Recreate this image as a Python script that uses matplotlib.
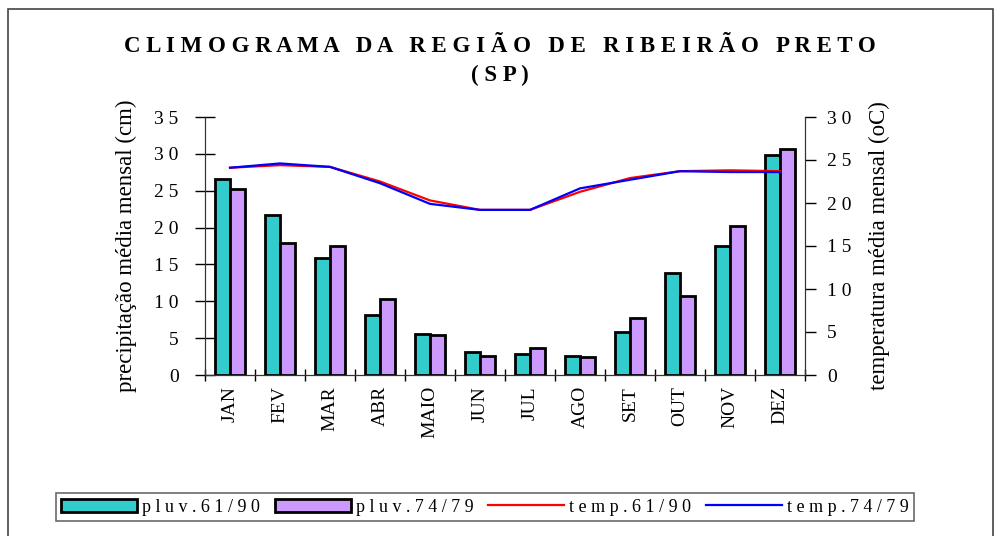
import matplotlib.pyplot as plt
import numpy as np
from matplotlib.patches import Patch
from matplotlib.lines import Line2D

months = ["JAN", "FEV", "MAR", "ABR", "MAIO", "JUN", "JUL", "AGO", "SET", "OUT", "NOV", "DEZ"]
pluv_61_90 = [26.6, 21.7, 15.9, 8.1, 5.5, 3.1, 2.85, 2.6, 5.8, 13.9, 17.5, 29.8]
pluv_74_79 = [25.2, 17.9, 17.5, 10.3, 5.4, 2.6, 3.7, 2.4, 7.8, 10.7, 20.2, 30.6]
temp_61_90 = [24.1, 24.4, 24.2, 22.5, 20.3, 19.2, 19.2, 21.3, 22.9, 23.7, 23.8, 23.7]
temp_74_79 = [24.1, 24.6, 24.2, 22.3, 19.9, 19.2, 19.2, 21.7, 22.7, 23.7, 23.6, 23.6]

left_ticks = [0, 5, 10, 15, 20, 25, 30, 35]
right_ticks = [0, 5, 10, 15, 20, 25, 30]

teal = "#33CCCC"
lilac = "#CC99FF"

plt.rcParams["font.family"] = ["Liberation Serif", "DejaVu Serif"]


def spaced(text):
    return " ".join(text)


fig = plt.figure(figsize=(9.97, 5.36), dpi=100)

# outer frame
fig.patches.append(plt.Rectangle((8 / 997, -0.01), 985 / 997, 1.0 - 9 / 536 + 0.01,
                                 transform=fig.transFigure, fill=False,
                                 edgecolor="#444444", linewidth=1.2))

ax = fig.add_axes([205 / 997, 1 - 375 / 536, 600 / 997, 258 / 536])
ax2 = ax.twinx()

x = np.arange(len(months))
w = 0.3
ax.bar(x - w / 2, pluv_61_90, w, color=teal, edgecolor="black", linewidth=2, zorder=3)
ax.bar(x + w / 2, pluv_74_79, w, color=lilac, edgecolor="black", linewidth=2, zorder=3)

ax2.plot(x, temp_61_90, color="red", linewidth=1.6)
ax2.plot(x, temp_74_79, color="blue", linewidth=1.6)

ax.set_xlim(-0.5, len(months) - 0.5)
ax.set_ylim(0, 35)
ax2.set_ylim(0, 30)

ax.set_yticks(left_ticks)
ax.set_yticklabels([spaced(str(v)) for v in left_ticks], fontsize=14)
ax2.set_yticks(right_ticks)
ax2.set_yticklabels([spaced(str(v)) for v in right_ticks], fontsize=14)

ax.set_xticks(np.arange(len(months) + 1) - 0.5)
ax.set_xticklabels([])
ax.set_xticks(x, minor=True)
ax.set_xticklabels(months, minor=True, rotation=90, fontsize=14)
ax.tick_params(axis="x", which="minor", length=0, pad=8)
ax.tick_params(axis="x", which="major", direction="inout", length=9, width=1)
ax.tick_params(axis="y", direction="inout", length=14, width=1, pad=12)
ax2.tick_params(axis="y", direction="out", length=8, width=1, pad=8)

for a in (ax, ax2):
    a.spines["top"].set_visible(False)
    for s in ("left", "right", "bottom"):
        a.spines[s].set_color("#333333")

ax.set_ylabel("precipitação média mensal (cm)", fontsize=16.5, labelpad=12)
ax2.set_ylabel("temperatura média mensal (oC)", fontsize=16.5, labelpad=12)

fig.text(500 / 997, 1 - 46 / 536,
         "   ".join(spaced(wd) for wd in "CLIMOGRAMA DA REGIÃO DE RIBEIRÃO PRETO".split()),
         ha="center", va="center", fontsize=16.5, fontweight="bold")
fig.text(500 / 997, 1 - 75 / 536, spaced("(SP)"), ha="center", va="center",
         fontsize=16.5, fontweight="bold")

handles = [
    Patch(facecolor=teal, edgecolor="black", linewidth=2),
    Patch(facecolor=lilac, edgecolor="black", linewidth=2),
    Line2D([], [], color="red", linewidth=1.6),
    Line2D([], [], color="blue", linewidth=1.6),
]
labels = [spaced("pluv.61/90"), spaced("pluv.74/79"), spaced("temp.61/90"), spaced("temp.74/79")]
leg = fig.legend(handles, labels, ncol=4, loc="center", bbox_to_anchor=(485 / 997, 1 - 507 / 536),
                 frameon=True, fancybox=False, edgecolor="#444444", fontsize=13,
                 handlelength=4.2, handletextpad=0.3, columnspacing=0.8, borderpad=0.3)
leg.get_frame().set_linewidth(1.2)

plt.savefig("out.png", dpi=100)
plt.close()
